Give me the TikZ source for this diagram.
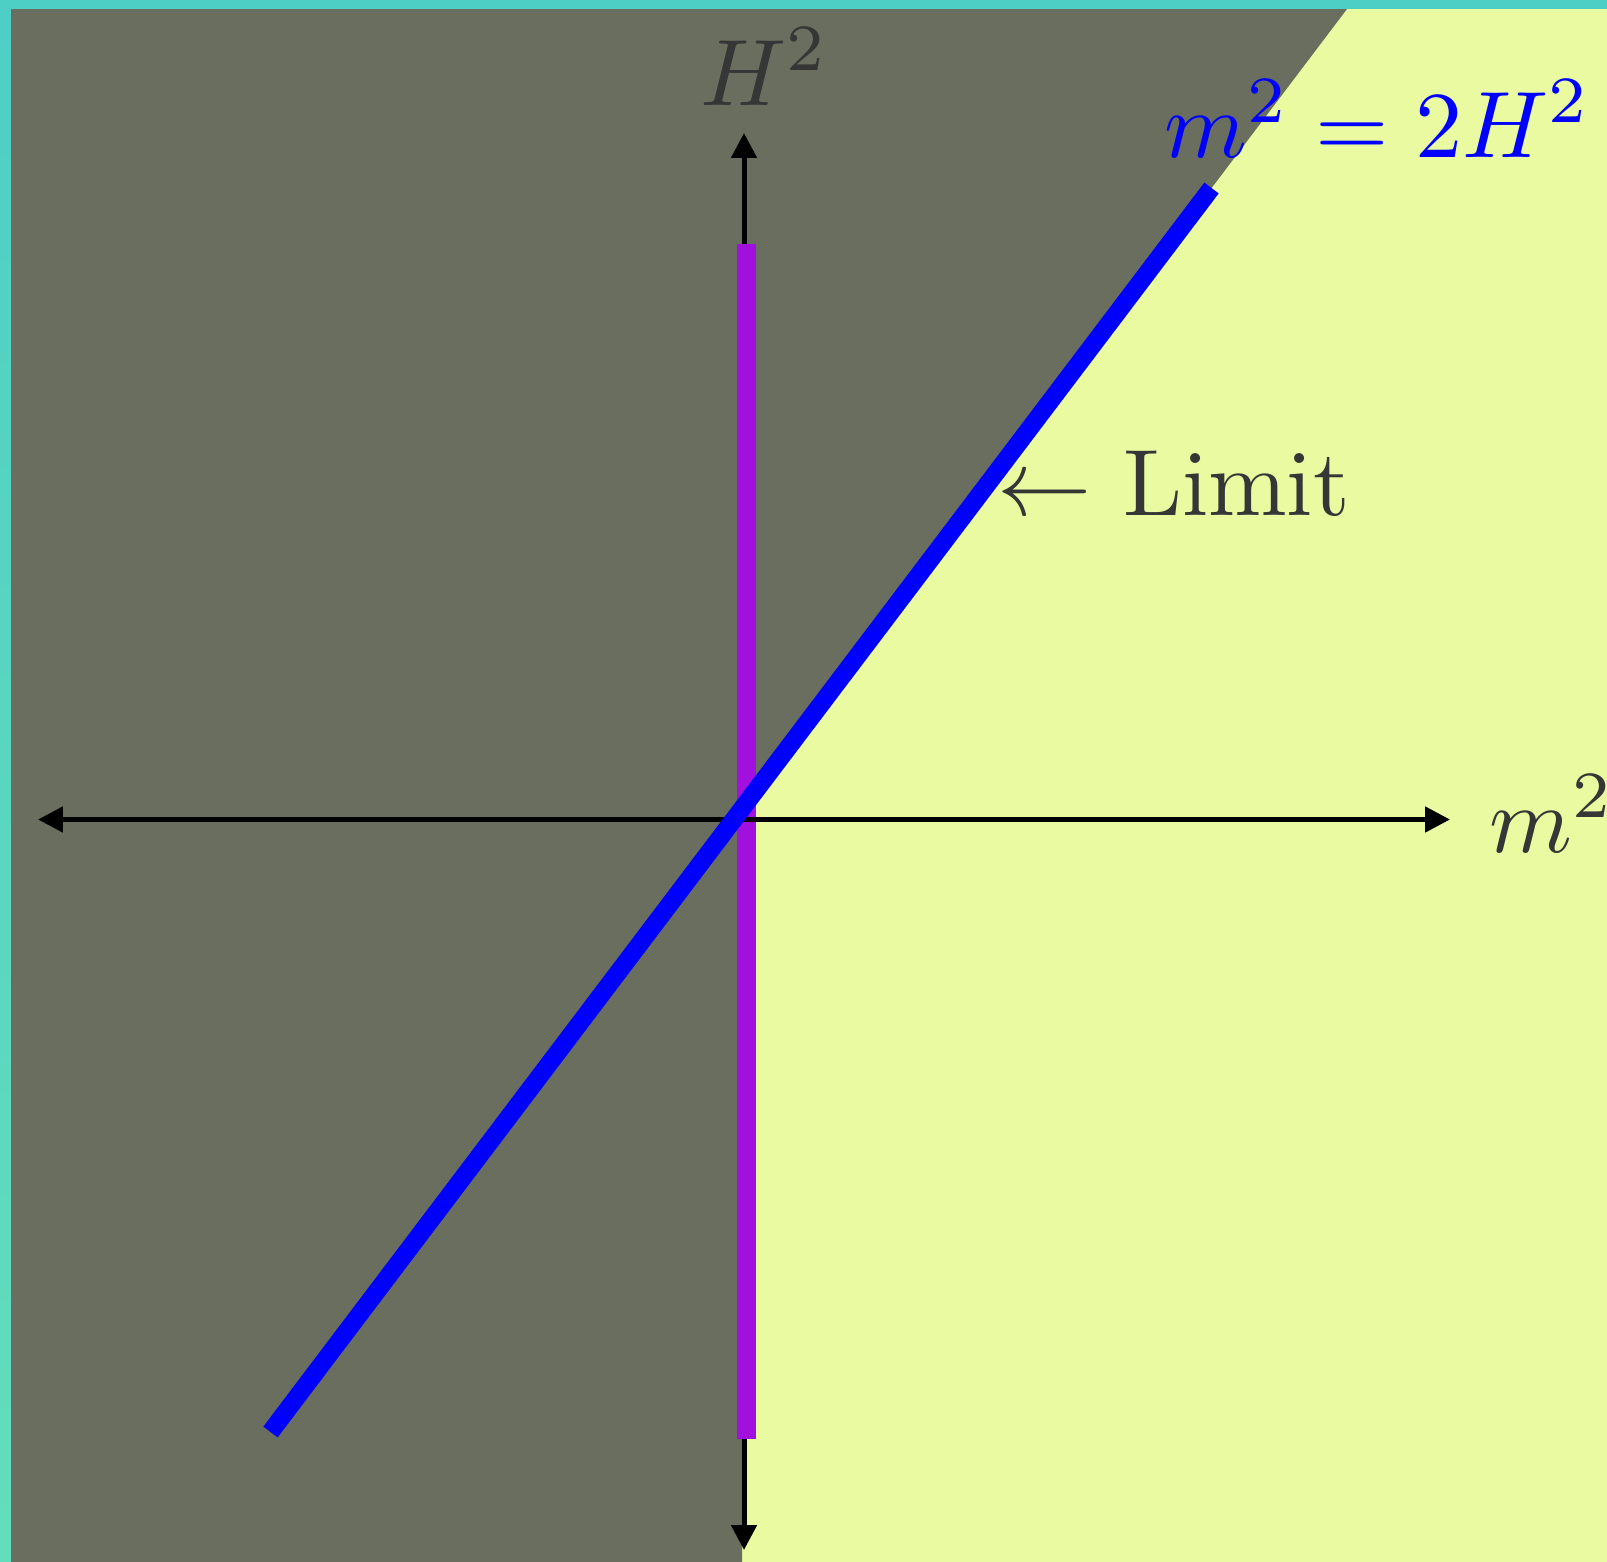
\documentclass[tikz,border=0pt]{standalone}
\usepackage{amsmath}
\usepackage{graphicx}
\usetikzlibrary{arrows.meta}
\definecolor{tealtop}{RGB}{78,207,197}
\definecolor{tealbot}{RGB}{98,222,186}
\definecolor{darkreg}{RGB}{106,110,95}
\definecolor{lightreg}{RGB}{233,250,160}
\definecolor{txtgray}{RGB}{54,54,54}
\definecolor{purp}{RGB}{162,16,222}
\newcommand{\bigtxt}[1]{\scalebox{5.37}{#1}}
\tikzset{
  axisline/.style={line width=0.1cm, draw=black, -{Triangle[length=0.5cm,width=0.5cm]}},
  bigtext/.style={inner sep=0pt, anchor=base west},
}
\begin{document}
\begin{tikzpicture}[x=0.02cm,y=-0.02cm]
\useasboundingbox (0,0) rectangle (1607,1562);
\shade[top color=tealtop, bottom color=tealbot] (0,0) rectangle (1607,1562);
\fill[lightreg] (11,9) rectangle (1607,1562);
\fill[darkreg] (11,9) -- (1347,9) -- (742,808.7) -- (742,1562) -- (11,1562) -- cycle;
% axes
\coordinate (o) at (744,819.5);
\coordinate (vt) at (744,133);
\coordinate (vb) at (744,1550);
\coordinate (hl) at (38,819.5);
\coordinate (hr) at (1450,819.5);
\draw[axisline] (o) -- (vt);
\draw[axisline] (o) -- (vb);
\coordinate (pt) at (746.7,244);
\coordinate (pb) at (746.7,1439);
\draw[purp, line width=0.374cm] (pt) -- (pb);
\draw[axisline] (o) -- (hl);
\draw[axisline] (o) -- (hr);
\coordinate (bl) at (270.5,1432);
\coordinate (bt) at (1211.5,188);
\draw[blue, line width=0.36cm] (bl) -- (bt);
% labels
\node[bigtext, text=txtgray] (hlab) at (700,105) {\bigtxt{$H^2$}};
\node[bigtext, text=blue] (eq) at (1164,157) {\bigtxt{$m^2=2H^2$}};
\node[bigtext, text=txtgray] (lim) at (997,515) {\bigtxt{$\leftarrow$ Limit}};
\node[bigtext, text=txtgray] (mlab) at (1489,852) {\bigtxt{$m^2$}};
\end{tikzpicture}
\end{document}
